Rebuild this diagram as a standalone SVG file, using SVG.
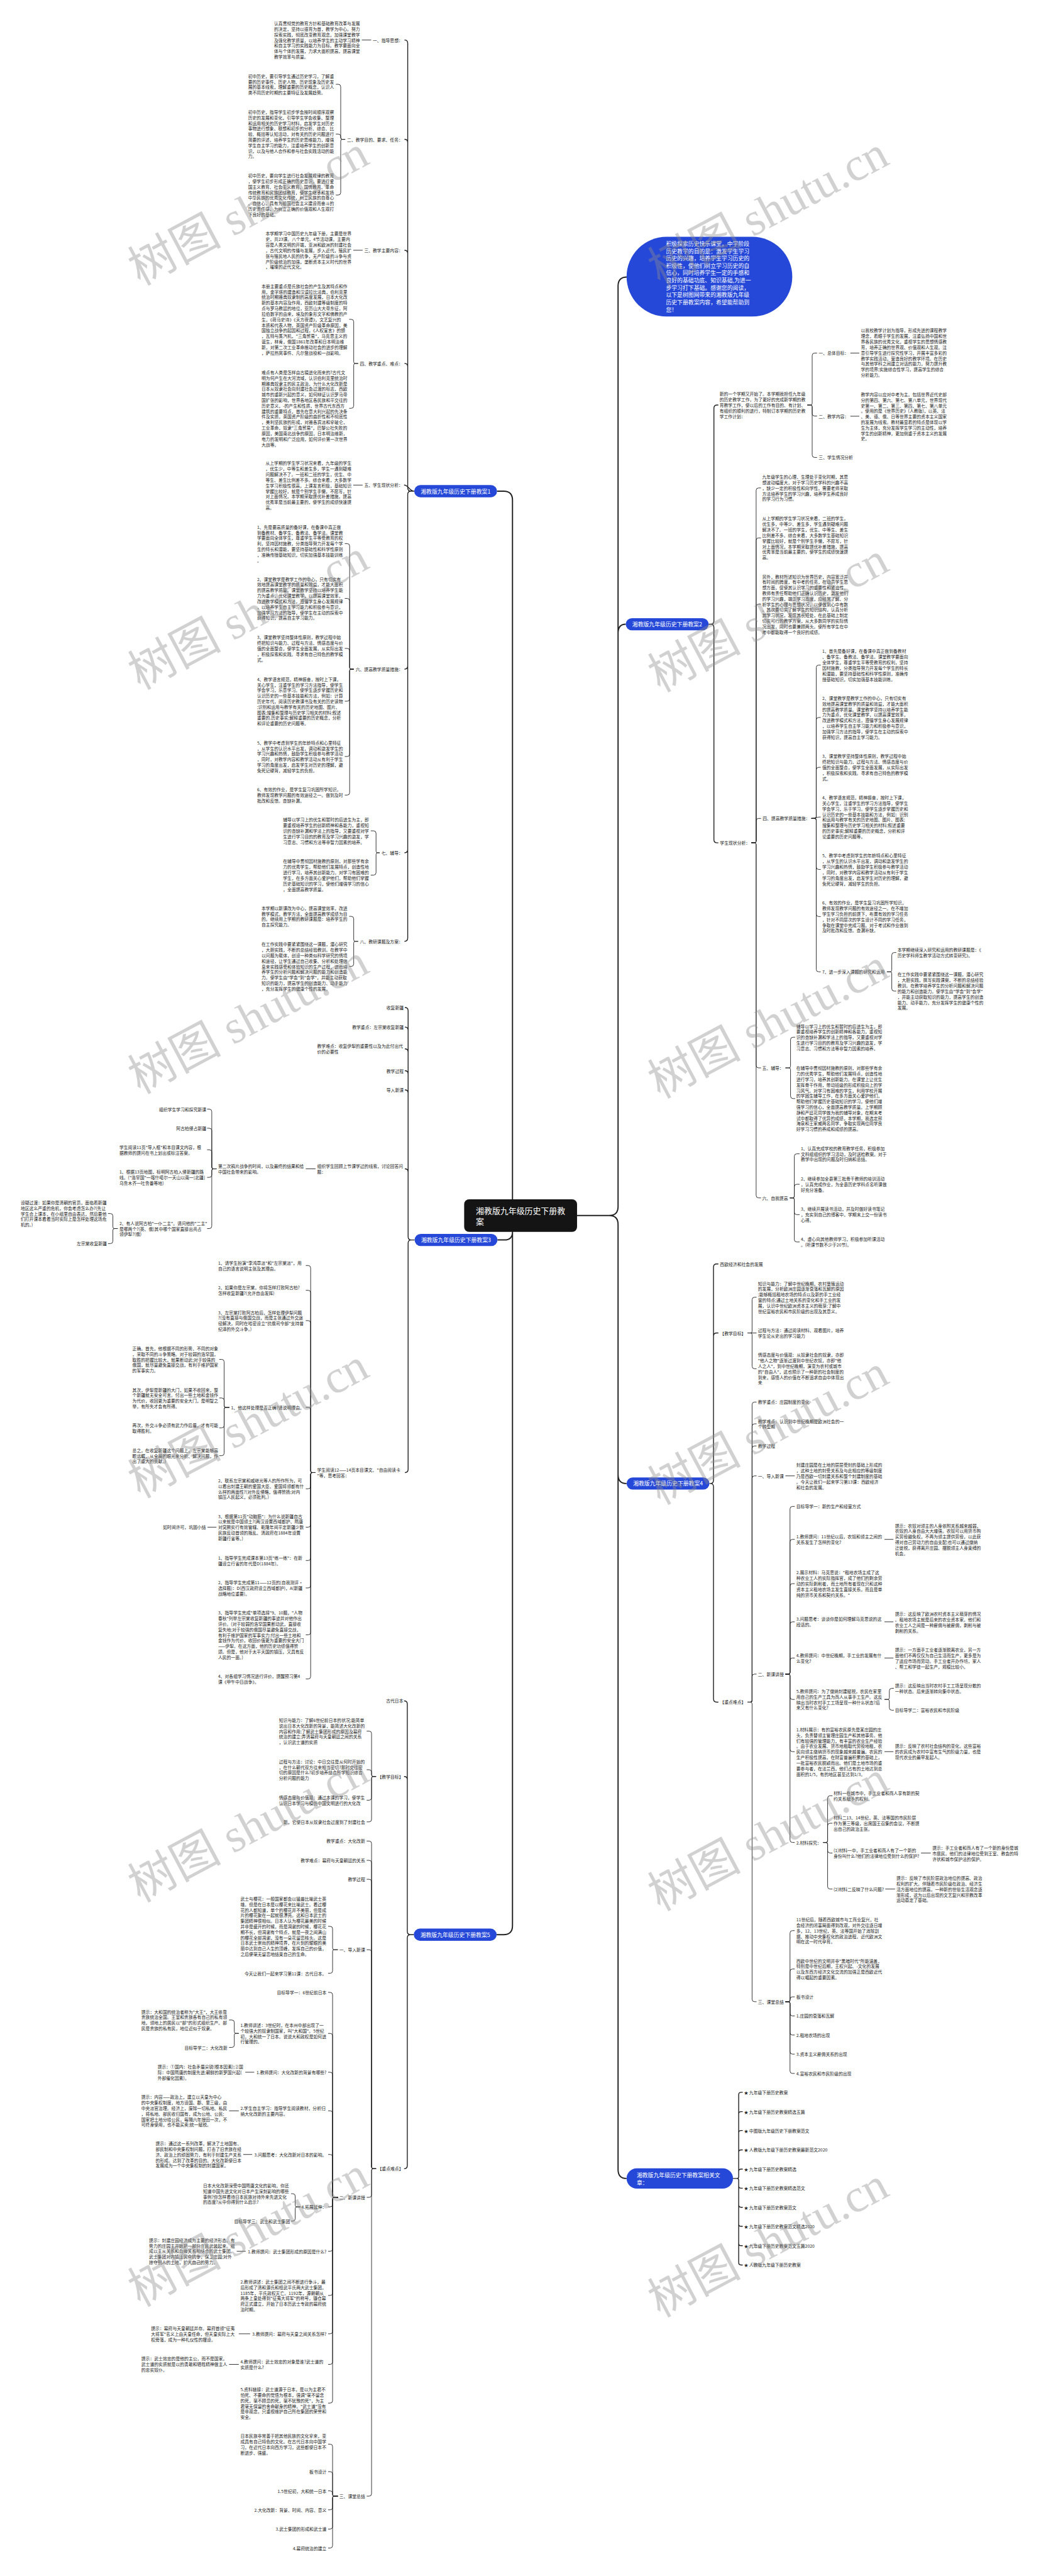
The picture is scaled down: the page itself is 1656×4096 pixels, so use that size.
<svg xmlns="http://www.w3.org/2000/svg" width="1656" height="4096" viewBox="0 0 1656 4096">
<style>
.t{font-family:"Noto Sans CJK SC","Noto Sans",sans-serif;font-size:10.6px;fill:#222;dominant-baseline:central}
.e{text-anchor:end}
.nt{font-family:"Noto Sans CJK SC","Noto Sans",sans-serif;font-size:13.7px;fill:#fff;dominant-baseline:central}
.mid{text-anchor:middle}
.rt{font-family:"Noto Sans CJK SC","Noto Sans",sans-serif;font-size:20px;fill:#fff;dominant-baseline:central}
.c{fill:none;stroke:#222;stroke-width:1.4}
.s{fill:none;stroke:#222;stroke-width:2.2}
.r{fill:none;stroke:#222;stroke-width:3}
.nd{fill:#2548d8}
.wm{font-family:"Liberation Serif","Noto Sans CJK SC",serif;font-size:115px;fill:#8c8c8c;fill-opacity:0.4}
</style>
<rect width="1656" height="4096" fill="#fff"/>
<g transform="scale(0.646)">
<g id="connectors">
<path class="r" d="M1262,2975V1231Q1262,1209 1240,1209H1224M1262,3010V3032Q1262,3052 1242,3052H1225M1262,3010V4740Q1262,4762 1240,4762H1223M1421,2992H1500Q1522,2992 1522,2970V704Q1522,682 1544,682M1421,2992H1500Q1522,2992 1522,2970V1558.5Q1522,1536.5 1541,1536.5M1421,2992H1500Q1522,2992 1522,3014V3629.5Q1522,3651.5 1543,3651.5M1421,2992H1500Q1522,2992 1522,3014V5340Q1522,5362 1543,5362"/>
<path class="s" d="M1020,1209H1012Q1004,1209 1004,1201V106.5Q1004,98.5 996,98.5M1020,1209H1012Q1004,1209 1004,1201V351Q1004,343 996,343M1020,1209H1012Q1004,1209 1004,1201V624Q1004,616 996,616M1020,1209H1012Q1004,1209 1004,1201V902.6Q1004,894.6 996,894.6M1020,1209C1008,1209 1006,1194 995,1194M1020,1209H1012Q1004,1209 1004,1217V1639Q1004,1647 996,1647M1020,1209H1012Q1004,1209 1004,1217V2091Q1004,2099 996,2099M1020,1209H1012Q1004,1209 1004,1217V2309Q1004,2317 996,2317"/>
<path class="c" d="M914,98.5H891M850,343H843Q839,343 839,339V213.5Q839,207.5 833,207.5H827M850,343H843Q839,343 839,339V336Q839,330 833,330H827M850,343H843Q839,343 839,347V474Q839,480 833,480H827M893,616H870M882,894.6H875Q871,894.6 871,890.6V792Q871,786 865,786H860M882,894.6H875Q871,894.6 871,898.6V999Q871,1005 865,1005H860M893,1194H870M871,1647H865Q861,1647 861,1643V1344Q861,1338 855,1338H849M871,1647H865Q861,1647 861,1643V1479Q861,1473 855,1473H849M871,1647H865Q861,1647 861,1643V1602Q861,1596 855,1596H849M871,1647H865Q861,1647 861,1651V1720Q861,1726 855,1726H849M871,1647H865Q861,1647 861,1651V1856Q861,1862 855,1862H849M871,1647H865Q861,1647 861,1651V1951Q861,1957 855,1957H849M935,2099H930Q926,2099 926,2095V2051Q926,2045 920,2045H913M935,2099H930Q926,2099 926,2103V2148Q926,2154 920,2154H913M882,2317H875Q871,2317 871,2313V2261.5Q871,2255.5 865,2255.5H860M882,2317H875Q871,2317 871,2321V2372.7Q871,2378.7 865,2378.7H860"/>
<path class="s" d="M1745,1536.5H1750Q1758,1536.5 1758,1528.5V1005Q1758,997 1766,997H1769M1745,1536.5H1750Q1758,1536.5 1758,1544.5V2066.5Q1758,2074.5 1766,2074.5H1769"/>
<path class="c" d="M1988,997H1996Q2000,997 2000,993V875Q2000,869 2006,869H2012M1988,997H1996Q2000,997 2000,1001V1018Q2000,1024 2006,1024H2012M1988,997H1996Q2000,997 2000,1001V1120Q2000,1126 2006,1126H2012M2094,869H2116M2094,1024.5H2116M1850,2074.5H1858Q1862,2074.5 1862,2070.5V1207Q1862,1201 1868,1201H1874M1850,2074.5H1858Q1862,2074.5 1862,2070.5V1330Q1862,1324 1868,1324H1874M1850,2074.5H1858Q1862,2074.5 1862,2070.5V1493Q1862,1487 1868,1487H1874M1850,2074.5H1858Q1862,2074.5 1862,2070.5V2020.5Q1862,2014.5 1868,2014.5H1874M1850,2074.5H1858Q1862,2074.5 1862,2078.5V2622.5Q1862,2628.5 1868,2628.5H1874M1850,2074.5H1858Q1862,2074.5 1862,2078.5V2942.5Q1862,2948.5 1868,2948.5H1874M1998,2014.5H2006Q2010,2014.5 2010,2010.5V1643Q2010,1637 2016,1637H2021M1998,2014.5H2006Q2010,2014.5 2010,2010.5V1772Q2010,1766 2016,1766H2021M1998,2014.5H2006Q2010,2014.5 2010,2010.5V1894.7Q2010,1888.7 2016,1888.7H2021M1998,2014.5C2008,2014.5 2008,2011 2021,2011M1998,2014.5H2006Q2010,2014.5 2010,2018.5V2134Q2010,2140 2016,2140H2021M1998,2014.5H2006Q2010,2014.5 2010,2018.5V2250Q2010,2256 2016,2256H2021M1998,2014.5H2006Q2010,2014.5 2010,2018.5V2386Q2010,2392 2016,2392H2021M2184,2392H2192Q2196,2392 2196,2388V2350.6Q2196,2344.6 2202,2344.6H2207M2184,2392H2192Q2196,2392 2196,2396V2433.5Q2196,2439.5 2202,2439.5H2207M1934,2628.5H1942.7Q1946.7,2628.5 1946.7,2624.5V2559Q1946.7,2553 1952.7,2553H1958M1934,2628.5H1942.7Q1946.7,2628.5 1946.7,2632.5V2698Q1946.7,2704 1952.7,2704H1958M1945,2948.5H1952Q1956,2948.5 1956,2944.5V2846Q1956,2840 1962,2840H1969M1945,2948.5H1952Q1956,2948.5 1956,2944.5V2921Q1956,2915 1962,2915H1969M1945,2948.5H1952Q1956,2948.5 1956,2952.5V2983.7Q1956,2989.7 1962,2989.7H1969M1945,2948.5H1952Q1956,2948.5 1956,2952.5V3051Q1956,3057 1962,3057H1969"/>
<path class="s" d="M1747,3651.5H1749Q1757,3651.5 1757,3643.5V3119Q1757,3111 1765,3111H1769M1747,3651.5H1749Q1757,3651.5 1757,3643.5V3289Q1757,3281 1765,3281H1769M1747,3651.5H1749Q1757,3651.5 1757,3659.5V4181.6Q1757,4189.6 1765,4189.6H1769"/>
<path class="c" d="M1841,3281H1848Q1852,3281 1852,3277V3199Q1852,3193 1858,3193H1863M1841,3281H1863M1841,3281H1848Q1852,3281 1852,3285V3363Q1852,3369 1858,3369H1863M1841,4189.6H1848Q1852,4189.6 1852,4185.6V3457Q1852,3451 1858,3451H1863M1841,4189.6H1848Q1852,4189.6 1852,4185.6V3510.6Q1852,3504.6 1858,3504.6H1863M1841,4189.6H1848Q1852,4189.6 1852,4185.6V3565Q1852,3559 1858,3559H1863M1841,4189.6H1848Q1852,4189.6 1852,4185.6V3638.7Q1852,3632.7 1858,3632.7H1863M1841,4189.6H1848Q1852,4189.6 1852,4185.6V4126.6Q1852,4120.6 1858,4120.6H1863M1841,4189.6H1848Q1852,4189.6 1852,4193.6V4921Q1852,4927 1858,4927H1863M1934,3632.7H1957M1934,4120.6H1941.4Q1945.4,4120.6 1945.4,4116.6V3714Q1945.4,3708 1951.4,3708H1957M1934,4120.6H1941.4Q1945.4,4120.6 1945.4,4116.6V3795Q1945.4,3789 1951.4,3789H1957M1934,4120.6H1941.4Q1945.4,4120.6 1945.4,4116.6V3904Q1945.4,3898 1951.4,3898H1957M1934,4120.6H1941.4Q1945.4,4120.6 1945.4,4116.6V3998Q1945.4,3992 1951.4,3992H1957M1934,4120.6H1941.4Q1945.4,4120.6 1945.4,4116.6V4087Q1945.4,4081 1951.4,4081H1957M1934,4120.6H1941.4Q1945.4,4120.6 1945.4,4124.6V4177Q1945.4,4183 1951.4,4183H1957M1934,4120.6H1941.4Q1945.4,4120.6 1945.4,4124.6V4305.5Q1945.4,4311.5 1951.4,4311.5H1957M1934,4120.6H1941.4Q1945.4,4120.6 1945.4,4124.6V4529Q1945.4,4535 1951.4,4535H1957M2178,3789H2200M2178,3992H2200M2178,4081H2200M2178,4311.5H2200M2178,4183H2186Q2190,4183 2190,4179V4161.6Q2190,4155.6 2196,4155.6H2201M2178,4183H2186Q2190,4183 2190,4187V4203.5Q2190,4209.5 2196,4209.5H2201M2027,4535H2034Q2038,4535 2038,4531V4426Q2038,4420 2044,4420H2050M2027,4535H2034Q2038,4535 2038,4531V4493.7Q2038,4487.7 2044,4487.7H2050M2027,4535H2034Q2038,4535 2038,4539V4555Q2038,4561 2044,4561H2050M2027,4535H2034Q2038,4535 2038,4539V4643.7Q2038,4649.7 2044,4649.7H2050M2268,4561H2292M2180,4649.7H2204M1934,4927H1941.4Q1945.4,4927 1945.4,4923V4758Q1945.4,4752 1951.4,4752H1957M1934,4927H1941.4Q1945.4,4927 1945.4,4923V4852.5Q1945.4,4846.5 1951.4,4846.5H1957M1934,4927H1941.4Q1945.4,4927 1945.4,4923V4921Q1945.4,4915 1951.4,4915H1957M1934,4927H1941.4Q1945.4,4927 1945.4,4931V4956Q1945.4,4962 1951.4,4962H1957M1934,4927H1941.4Q1945.4,4927 1945.4,4931V5003Q1945.4,5009 1951.4,5009H1957M1934,4927H1941.4Q1945.4,4927 1945.4,4931V5050Q1945.4,5056 1951.4,5056H1957M1934,4927H1941.4Q1945.4,4927 1945.4,4931V5097.5Q1945.4,5103.5 1951.4,5103.5H1957"/>
<path class="s" d="M1805,5362H1815Q1819,5362 1819,5358V5156Q1819,5150 1825,5150H1829M1805,5362H1815Q1819,5362 1819,5358V5203.6Q1819,5197.6 1825,5197.6H1829M1805,5362H1815Q1819,5362 1819,5358V5250Q1819,5244 1825,5244H1829M1805,5362H1815Q1819,5362 1819,5358V5297.7Q1819,5291.7 1825,5291.7H1829M1805,5362H1815Q1819,5362 1819,5358V5345Q1819,5339 1825,5339H1829M1805,5362H1815Q1819,5362 1819,5366V5380Q1819,5386 1825,5386H1829M1805,5362H1815Q1819,5362 1819,5366V5427Q1819,5433 1825,5433H1829M1805,5362H1815Q1819,5362 1819,5366V5474Q1819,5480 1825,5480H1829M1805,5362H1815Q1819,5362 1819,5366V5521.5Q1819,5527.5 1825,5527.5H1829M1805,5362H1815Q1819,5362 1819,5366V5569Q1819,5575 1825,5575H1829"/>
<path class="s" d="M1021,3052H1013Q1005,3052 1005,3044V2488Q1005,2480 997,2480M1021,3052H1013Q1005,3052 1005,3044V2536Q1005,2528 997,2528M1021,3052H1013Q1005,3052 1005,3044V2589.6Q1005,2581.6 997,2581.6M1021,3052H1013Q1005,3052 1005,3044V2643.5Q1005,2635.5 997,2635.5M1021,3052H1013Q1005,3052 1005,3044V2690.7Q1005,2682.7 997,2682.7M1021,3052H1013Q1005,3052 1005,3044V2885Q1005,2877 997,2877M1021,3052H1013Q1005,3052 1005,3060V3616.6Q1005,3624.6 997,3624.6"/>
<path class="c" d="M777,2877H753M533,2877H525.5Q521.5,2877 521.5,2873V2736Q521.5,2730 515.5,2730H510M533,2877H525.5Q521.5,2877 521.5,2873V2783Q521.5,2777 515.5,2777H510M533,2877H525.5Q521.5,2877 521.5,2873V2836Q521.5,2830 515.5,2830H510M533,2877H525.5Q521.5,2877 521.5,2881V2892Q521.5,2898 515.5,2898H510M533,2877H525.5Q521.5,2877 521.5,2881V3018Q521.5,3024 515.5,3024H510M290,3024H282Q278,3024 278,3020V2993Q278,2987 272,2987H266M290,3024H282Q278,3024 278,3028V3055Q278,3061 272,3061H266M777,3624.6H769Q765,3624.6 765,3620.6V3121Q765,3115 759,3115H753M777,3624.6H769Q765,3624.6 765,3620.6V3182Q765,3176 759,3176H753M777,3624.6H769Q765,3624.6 765,3620.6V3256.6Q765,3250.6 759,3250.6H753M777,3624.6H769Q765,3624.6 765,3620.6V3470Q765,3464 759,3464H753M777,3624.6H769Q765,3624.6 765,3628.6V3658.5Q765,3664.5 759,3664.5H753M777,3624.6H769Q765,3624.6 765,3628.6V3753Q765,3759 759,3759H753M777,3624.6H769Q765,3624.6 765,3628.6V3835Q765,3841 759,3841H753M777,3624.6H769Q765,3624.6 765,3628.6V3902.5Q765,3908.5 759,3908.5H753M777,3624.6H769Q765,3624.6 765,3628.6V4018Q765,4024 759,4024H753M777,3624.6H769Q765,3624.6 765,3628.6V4126.6Q765,4132.6 759,4132.6H753M565,3464H556Q552,3464 552,3460V3352Q552,3346 546,3346H540M565,3464H556Q552,3464 552,3460V3447Q552,3441 546,3441H540M565,3464H556Q552,3464 552,3468V3508.5Q552,3514.5 546,3514.5H540M565,3464H556Q552,3464 552,3468V3577Q552,3583 546,3583H540M533,3759H511"/>
<path class="s" d="M1019,4762H1011Q1003,4762 1003,4754V4194.5Q1003,4186.5 995,4186.5M1019,4762H1011Q1003,4762 1003,4754V4380.6Q1003,4372.6 995,4372.6M1019,4762H1011Q1003,4762 1003,4770V5330Q1003,5338 995,5338"/>
<path class="c" d="M926,4372.6H919Q915,4372.6 915,4368.6V4267Q915,4261 909,4261H903M926,4372.6H919Q915,4372.6 915,4368.6V4362Q915,4356 909,4356H903M926,4372.6H919Q915,4372.6 915,4376.6V4425Q915,4431 909,4431H903M926,4372.6H919Q915,4372.6 915,4376.6V4478.3Q915,4484.3 909,4484.3H903M926,5338H919Q915,5338 915,5334V4537.6Q915,4531.6 909,4531.6H903M926,5338H919Q915,5338 915,5334V4585Q915,4579 909,4579H903M926,5338H919Q915,5338 915,5334V4631.6Q915,4625.6 909,4625.6H903M926,5338H919Q915,5338 915,5334V4805Q915,4799 909,4799H903M926,5338H919Q915,5338 915,5342V5402.5Q915,5408.5 909,5408.5H903M926,5338H919Q915,5338 915,5342V6138Q915,6144 909,6144H903M832,4799H823Q819,4799 819,4795V4747.5Q819,4741.5 813,4741.5H808M832,4799H823Q819,4799 819,4803V4851Q819,4857 813,4857H808M832,5408.5H823Q819,5408.5 819,5404.5V4910Q819,4904 813,4904H808M832,5408.5H823Q819,5408.5 819,5404.5V5011Q819,5005 813,5005H808M832,5408.5H823Q819,5408.5 819,5404.5V5106.6Q819,5100.6 813,5100.6H808M832,5408.5H823Q819,5408.5 819,5404.5V5201.6Q819,5195.6 813,5195.6H808M832,5408.5H823Q819,5408.5 819,5404.5V5309Q819,5303 813,5303H808M832,5408.5H823Q819,5408.5 819,5412.5V5426Q819,5432 813,5432H808M832,5408.5H823Q819,5408.5 819,5412.5V5535.3Q819,5541.3 813,5541.3H808M832,5408.5H823Q819,5408.5 819,5412.5V5644Q819,5650 813,5650H808M832,5408.5H823Q819,5408.5 819,5412.5V5738.4Q819,5744.4 813,5744.4H808M832,5408.5H823Q819,5408.5 819,5412.5V5813.7Q819,5819.7 813,5819.7H808M832,5408.5H823Q819,5408.5 819,5412.5V5909Q819,5915 813,5915H808M832,6144H823Q819,6144 819,6140V6022Q819,6016 813,6016H808M832,6144H823Q819,6144 819,6140V6089.7Q819,6083.7 813,6083.7H808M832,6144H823Q819,6144 819,6140V6137Q819,6131 813,6131H808M832,6144H823Q819,6144 819,6148V6171.7Q819,6177.7 813,6177.7H808M832,6144H823Q819,6144 819,6148V6219Q819,6225 813,6225H808M832,6144H823Q819,6144 819,6148V6265.7Q819,6271.7 813,6271.7H808M588,5005H581Q577,5005 577,5001V4978Q577,4972 571,4972H564M588,5005H581Q577,5005 577,5009V5033.5Q577,5039.5 571,5039.5H564M626,5100.6H604M588,5195.6H564M621,5303H599M740,5432H731Q727,5432 727,5428V5405.6Q727,5399.6 721,5399.6H717M740,5432H731Q727,5432 727,5436V5461Q727,5467 721,5467H717M605,5541.3H583M616,5744.4H588M588,5819.7H564"/>
</g>
<g id="root"><rect x="1143" y="2952" width="278" height="80" rx="12" fill="#141414"/><text class="rt" x="1172" y="2979"><tspan x="1172">湘教版九年级历史下册教</tspan><tspan x="1172" dy="26">案</tspan></text></g>
<g id="intro"><rect class="nd" x="1543" y="583" width="408" height="196" rx="98"/><text class="nt" x="1640" y="599"><tspan x="1640">积极探索历史快乐课堂，中学阶段</tspan><tspan x="1640" dy="18">历史教学的目的是：激发学生学习</tspan><tspan x="1640" dy="18">历史的兴趣，培养学生学习历史的</tspan><tspan x="1640" dy="18">积极性，使他们树立学习历史的自</tspan><tspan x="1640" dy="18">信心，同时培养学生一定的手感和</tspan><tspan x="1640" dy="18">良好的基础功底、知识基础,为进一</tspan><tspan x="1640" dy="18">步学习打下基础。感谢您的阅读，</tspan><tspan x="1640" dy="18">以下是树图网带来的湘教版九年级</tspan><tspan x="1640" dy="18">历史下册教案内容，希望能帮助到</tspan><tspan x="1640" dy="18">您！</tspan></text></g>
<g id="b1"><rect class="nd" x="1020" y="1194" width="204" height="30" rx="15"/><text class="nt mid" x="1122" y="1209">湘教版九年级历史下册教案1</text></g>
<g id="b2"><rect class="nd" x="1541" y="1521.5" width="204" height="30" rx="15"/><text class="nt mid" x="1643" y="1536.5">湘教版九年级历史下册教案2</text></g>
<g id="b3"><rect class="nd" x="1021" y="3037" width="204" height="30" rx="15"/><text class="nt mid" x="1123" y="3052">湘教版九年级历史下册教案3</text></g>
<g id="b4"><rect class="nd" x="1543" y="3636.5" width="204" height="30" rx="15"/><text class="nt mid" x="1645" y="3651.5">湘教版九年级历史下册教案4</text></g>
<g id="b5"><rect class="nd" x="1019" y="4747" width="204" height="30" rx="15"/><text class="nt mid" x="1121" y="4762">湘教版九年级历史下册教案5</text></g>
<g id="b6"><rect class="nd" x="1543" y="5337" width="262" height="50" rx="25"/><text class="nt" x="1568" y="5353"><tspan x="1568">湘教版九年级历史下册教案相关文</tspan><tspan x="1568" dy="18">章：</tspan></text></g>
<g id="b1-items">
<text class="t e" x="992" y="98.5">一、指导思想：</text>
<text class="t e" x="992" y="343">二、教学目的、要求、任务：</text>
<text class="t e" x="992" y="616">三、教学主要内容：</text>
<text class="t e" x="992" y="894.6">四、教学重点、难点：</text>
<text class="t e" x="992" y="1194">五、学生现状分析：</text>
<text class="t e" x="992" y="1647">六、提高教学质量措施：</text>
<text class="t e" x="992" y="2099">七、辅导：</text>
<text class="t e" x="992" y="2317">八、教研课题及方案：</text>
<text class="t" x="675" y="57.5"><tspan x="675">认真贯彻党的教育方针和基础教育改革与发展</tspan><tspan x="675" dy="13.65">的决定，坚持以德育为首，教学为中心。努力</tspan><tspan x="675" dy="13.65">探索实践，彻底改变教育观念，加强课堂教学</tspan><tspan x="675" dy="13.65">及强化教学质量，以培养学生的主动学习精神</tspan><tspan x="675" dy="13.65">和自主学习的实践能力为目标。教学要面向全</tspan><tspan x="675" dy="13.65">体与个体的发展，力求大面积提高，提高课堂</tspan><tspan x="675" dy="13.65">教学效率与质量。</tspan></text>
<text class="t" x="611" y="187"><tspan x="611">初中历史，要引导学生通过历史学习，了解重</tspan><tspan x="611" dy="13.65">要的历史事件、历史人物、历史现象及历史发</tspan><tspan x="611" dy="13.65">展的基本线索，理解重要的历史概念，认识人</tspan><tspan x="611" dy="13.65">类不同历史时期的主要特征及发展趋势。</tspan></text>
<text class="t" x="611" y="275.4"><tspan x="611">初中历史，指导学生初步学会按时间顺序观察</tspan><tspan x="611" dy="13.65">历史的发展和变化，引导学生学会收集、整理</tspan><tspan x="611" dy="13.65">和运用相关的历史学习材料，启发学生对历史</tspan><tspan x="611" dy="13.65">事物进行想象、联想和初步的分析、综合、比</tspan><tspan x="611" dy="13.65">较、概括等认知活动，对有关的历史问题进行</tspan><tspan x="611" dy="13.65">简要的评述，培养学生的历史思维能力，增强</tspan><tspan x="611" dy="13.65">学生自主学习的能力，注重培养学生的创新意</tspan><tspan x="611" dy="13.65">识，以及与他人合作和参与社会实践活动的能</tspan><tspan x="611" dy="13.65">力。</tspan></text>
<text class="t" x="611" y="432.2"><tspan x="611">初中历史，要向学生进行社会发展规律的教育</tspan><tspan x="611" dy="13.65">，使学生初步形成正确的历史意识，要进行爱</tspan><tspan x="611" dy="13.65">国主义教育、社会主义教育、国情教育、革命</tspan><tspan x="611" dy="13.65">传统教育和民族团结教育，使学生继承和发扬</tspan><tspan x="611" dy="13.65">中华民族的优秀文化传统，树立民族的自尊心</tspan><tspan x="611" dy="13.65">、自信心，具有为祖国社会主义建设而奋斗的</tspan><tspan x="611" dy="13.65">历史责任感，为树立正确的价值观和人生观打</tspan><tspan x="611" dy="13.65">下良好的基础。</tspan></text>
<text class="t" x="654" y="575"><tspan x="654">本学期学习中国历史九年级下册，主要是世界</tspan><tspan x="654" dy="13.65">史，共23课。八个单元，4节活动课。主要内</tspan><tspan x="654" dy="13.65">容是人类文明的开端，亚洲和欧洲的封建社会</tspan><tspan x="654" dy="13.65">，古代文明的传播与发展，步入近代，殖民扩</tspan><tspan x="654" dy="13.65">张与殖民地人民的抗争，无产阶级的斗争与资</tspan><tspan x="654" dy="13.65">产阶级统治的加强，垄断资本主义时代的世界</tspan><tspan x="654" dy="13.65">，璀璨的近代文化。</tspan></text>
<text class="t" x="644" y="704.1"><tspan x="644">本册主要重点是氏族社会的产生及其特点和作</tspan><tspan x="644" dy="13.65">用，金字塔的建造和汉谟拉比法典，伯利克里</tspan><tspan x="644" dy="13.65">统治时期雅典奴隶制的高度发展，日本大化改</tspan><tspan x="644" dy="13.65">新的基本内容及作用，西欧封建等级制度的特</tspan><tspan x="644" dy="13.65">点与罗马教廷的地位，亚历山大大帝东征，阿</tspan><tspan x="644" dy="13.65">拉伯数字的由来，埃及的象形文字和佛教的产</tspan><tspan x="644" dy="13.65">生，《荷马史诗》《天方夜谭》，文艺复兴的</tspan><tspan x="644" dy="13.65">本质和代表人物，英国资产阶级革命原因，美</tspan><tspan x="644" dy="13.65">国独立战争的起因和过程，《人权宣言》的颁</tspan><tspan x="644" dy="13.65">，瓦特与蒸汽机，"三角贸易"，马克思主义的</tspan><tspan x="644" dy="13.65">诞生，林肯，俄国1861年改革和日本明治维</tspan><tspan x="644" dy="13.65">新，对第二次工业革命推动社会的进步的理解</tspan><tspan x="644" dy="13.65">，萨拉热窝事件、凡尔登战役和一战影响。</tspan></text>
<text class="t" x="644" y="916.3"><tspan x="644">难点有人类是怎样由古猿进化而来的?古代文</tspan><tspan x="644" dy="13.65">明为何产生在大河流域，认识伯利克里统治时</tspan><tspan x="644" dy="13.65">期雅典奴隶主的民主政治，为什么大化改新是</tspan><tspan x="644" dy="13.65">日本从奴隶社会向封建社会过渡的标志，西欧</tspan><tspan x="644" dy="13.65">城市的重新兴起的意义，如何辩证认识罗马帝</tspan><tspan x="644" dy="13.65">国扩张的影响，世界各地区各民族和平交往的</tspan><tspan x="644" dy="13.65">历史意义，-的产生和性质，世界古代东西方</tspan><tspan x="644" dy="13.65">建筑的重要特点，首先在意大利兴起的先决条</tspan><tspan x="644" dy="13.65">件及实质，英国资产阶级的曲折性和不彻底性</tspan><tspan x="644" dy="13.65">，美利坚民族的形成，对雅各宾派和拿破仑，</tspan><tspan x="644" dy="13.65">工业革命，奴隶"三角贸易"，巴黎公社失败的</tspan><tspan x="644" dy="13.65">原因，美国南北战争的原因，日本明治维新，</tspan><tspan x="644" dy="13.65">电力的发明和广泛应用，如何评价第一次世界</tspan><tspan x="644" dy="13.65">大战等。</tspan></text>
<text class="t" x="654" y="1140"><tspan x="654">从上学期的学生学习状况来看，九年级的学生</tspan><tspan x="654" dy="13.65">，优生少，中等生和差生多，学生一遇到疑难</tspan><tspan x="654" dy="13.65">问题解决不了。一班和二班的学生，优生、中</tspan><tspan x="654" dy="13.65">等生、差生比例差不多。综合来看，大多数学</tspan><tspan x="654" dy="13.65">生学习积极性很高，上课发言积极，基础知识</tspan><tspan x="654" dy="13.65">掌握比较好，就是个别学生手懒，不愿写，针</tspan><tspan x="654" dy="13.65">对上面情况，本学期采取提优补差措施，提高</tspan><tspan x="654" dy="13.65">优秀率是当前最主要的，使学生的成绩快速提</tspan><tspan x="654" dy="13.65">高。</tspan></text>
<text class="t" x="633" y="1297"><tspan x="633">1、先是要高质量的备好课，在备课中真正做</tspan><tspan x="633" dy="13.65">到备教材、备学生、备教法、备学法。课堂教</tspan><tspan x="633" dy="13.65">学要面向全体学生，尊重学生平等受教育的权</tspan><tspan x="633" dy="13.65">利，坚持因材施教，分类指导努力开发每个学</tspan><tspan x="633" dy="13.65">生的特长和潜能，要坚持基础性和科学性原则</tspan><tspan x="633" dy="13.65">，准确传授基础知识，切实加强基本技能训练</tspan><tspan x="633" dy="13.65">。</tspan></text>
<text class="t" x="633" y="1425.2"><tspan x="633">2、课堂教学是教学工作的中心，只有切实有</tspan><tspan x="633" dy="13.65">效地提高课堂教学的质量和效益，才能大面积</tspan><tspan x="633" dy="13.65">的提高教学质量。课堂教学坚持以培养学生能</tspan><tspan x="633" dy="13.65">力为重点，优化课堂教学，以提高课堂效率，</tspan><tspan x="633" dy="13.65">改进教学模式和方法，遵循学生身心发展规律</tspan><tspan x="633" dy="13.65">，以培养学生自主学习能力和积极参与意识，</tspan><tspan x="633" dy="13.65">加强学习方法的指导，使学生在主动的探索中</tspan><tspan x="633" dy="13.65">获得知识，提高自主学习能力。</tspan></text>
<text class="t" x="633" y="1568.7"><tspan x="633">3、课堂教学坚持整体性原则，教学过程中始</tspan><tspan x="633" dy="13.65">终把知识与能力、过程与方法、情感态度与价</tspan><tspan x="633" dy="13.65">值的全面整合，使学生全面发展，从实际出发</tspan><tspan x="633" dy="13.65">，积极探索和实践。寻求有自己特色的教学模</tspan><tspan x="633" dy="13.65">式。</tspan></text>
<text class="t" x="633" y="1671.4"><tspan x="633">4、教学语言规范，精神振奋，按时上下课，</tspan><tspan x="633" dy="13.65">关心学生，注重学生的学习方法指导，使学生</tspan><tspan x="633" dy="13.65">学会学习，乐意学习。使学生逐步掌握历史和</tspan><tspan x="633" dy="13.65">认识历史的一些基本技能和方法，例如：计算</tspan><tspan x="633" dy="13.65">历史年代，阅读历史教课书及有关的历史读物</tspan><tspan x="633" dy="13.65">;识别和运用与教学有关的历史地图、图片、</tspan><tspan x="633" dy="13.65">图表;搜集和整理与历史学习相关的材料;叙述</tspan><tspan x="633" dy="13.65">重要的.历史事实;解释重要的历史概念，分析</tspan><tspan x="633" dy="13.65">和评论重要的历史问题等。</tspan></text>
<text class="t" x="633" y="1827.9"><tspan x="633">5、教学中考虑到学生的年龄特点和心里特征</tspan><tspan x="633" dy="13.65">，从学生的认识水平出发，调动和激发学生的</tspan><tspan x="633" dy="13.65">学习兴趣和热情，鼓励学生积极参与教学活动</tspan><tspan x="633" dy="13.65">，同时，对教学内容和教学活动从有利于学生</tspan><tspan x="633" dy="13.65">学习的角度出发，启发学生对历史的理解，避</tspan><tspan x="633" dy="13.65">免死记硬背，减轻学生的负担。</tspan></text>
<text class="t" x="633" y="1943.4"><tspan x="633">6、有效的作业，是学生复习巩固所学知识，</tspan><tspan x="633" dy="13.65">教师发现教学问题的有效途径之一。做到及时</tspan><tspan x="633" dy="13.65">批改和反馈。查缺补漏。</tspan></text>
<text class="t" x="697" y="2017.7"><tspan x="697">辅导以学习上的优生和暂时的后进生为主，即</tspan><tspan x="697" dy="13.65">要重视培养学生的创新精神和各能力，重视知</tspan><tspan x="697" dy="13.65">识的查缺补漏和学法上的指导，又要重视对学</tspan><tspan x="697" dy="13.65">生进行学习目的的教育及学习兴趣的激发，学</tspan><tspan x="697" dy="13.65">习意志、习惯和方法等非智力因素的培养。</tspan></text>
<text class="t" x="697" y="2119.9"><tspan x="697">在辅导中贯彻因材施教的原则，对那些学有余</tspan><tspan x="697" dy="13.65">力的优秀学生，帮助他们发展特点，创造性地</tspan><tspan x="697" dy="13.65">进行学习，培养其创新能力。对学习有困难的</tspan><tspan x="697" dy="13.65">学生，在多方面关心爱护他们，帮助他们掌握</tspan><tspan x="697" dy="13.65">历史基础知识的学习，使他们增强学习的信心</tspan><tspan x="697" dy="13.65">，全面提高教学质量。</tspan></text>
<text class="t" x="644" y="2235"><tspan x="644">本学期以新课改为中心，提高课堂效率，改进</tspan><tspan x="644" dy="13.65">教学模式，教学方法，全面提高教学成绩为目</tspan><tspan x="644" dy="13.65">的。继续用上学期的教研课题是：培养学生的</tspan><tspan x="644" dy="13.65">自主探究能力。</tspan></text>
<text class="t" x="644" y="2324.1"><tspan x="644">在工作实践中要紧紧围绕这一课题，潜心研究</tspan><tspan x="644" dy="13.65">，大胆实践，不断的总结经验教训。在教学中</tspan><tspan x="644" dy="13.65">以问题为载体，创设一种类似科学研究的情境</tspan><tspan x="644" dy="13.65">和途径，让学生通过自己收集、分析和处理信</tspan><tspan x="644" dy="13.65">息来实践感受和体验知识的生产过程，进而培</tspan><tspan x="644" dy="13.65">养学生的分析问题和解决问题的能力和创造能</tspan><tspan x="644" dy="13.65">力。使学生由"学会"到"会学"，并能主动获取</tspan><tspan x="644" dy="13.65">知识的能力，提高学生的创造能力、动手能力</tspan><tspan x="644" dy="13.65">，充分发挥学生的健康个性的发展。</tspan></text>
</g>
<g id="b2-items">
<text class="t" x="1772" y="969.7"><tspan x="1772">新的一个学期又开始了。本学期我担任九年级</tspan><tspan x="1772" dy="13.65">的历史教学工作，为了更好的完成新学期的教</tspan><tspan x="1772" dy="13.65">育教学工作，使以后的工作有目的、有计划、</tspan><tspan x="1772" dy="13.65">有组织的顺利的进行，特制订本学期的历史教</tspan><tspan x="1772" dy="13.65">学工作计划：</tspan></text>
<text class="t" x="2016" y="869">一、总体目标：</text>
<text class="t" x="2016" y="1024.5">二、教学内容：</text>
<text class="t" x="2016" y="1126">三、学生情况分析</text>
<text class="t" x="2120" y="813.4"><tspan x="2120">以我校教学计划为指导，形成先进的课程教学</tspan><tspan x="2120" dy="13.65">理念，着眼于学生的发展，注重弘扬中国和世</tspan><tspan x="2120" dy="13.65">界各民族的优秀文化，重视学生的思想情感教</tspan><tspan x="2120" dy="13.65">育，培养正确的世界观、价值观和人生观。注</tspan><tspan x="2120" dy="13.65">意引导学生进行探究性学习，开展丰富多彩的</tspan><tspan x="2120" dy="13.65">教学实践活动，营造良好的教学环境。在历史</tspan><tspan x="2120" dy="13.65">与其他学科之间建立对话的能力，努力提升教</tspan><tspan x="2120" dy="13.65">学的境界;实施综合性学习，提高学生的综合</tspan><tspan x="2120" dy="13.65">分析能力。</tspan></text>
<text class="t" x="2120" y="970.4"><tspan x="2120">教学内容以应对中考为主。包括世界近代史部</tspan><tspan x="2120" dy="13.65">分的第四、第六、第七、第八单元，世界现代</tspan><tspan x="2120" dy="13.65">史第一、第二、第三、第四、第七、第八单元</tspan><tspan x="2120" dy="13.65">。使用的是《世界历史》(人教版)，以英、法</tspan><tspan x="2120" dy="13.65">、美、德、俄、日等世界主要的资本主义国家</tspan><tspan x="2120" dy="13.65">的发展为线索。教材最显着的特点是体现以学</tspan><tspan x="2120" dy="13.65">生为主体，充分发挥学生学习的主动性，培养</tspan><tspan x="2120" dy="13.65">学生的创新精神，更加侧重于资本主义的发展</tspan><tspan x="2120" dy="13.65">史。</tspan></text>
<text class="t" x="1773" y="2074.5">学生现状分析：</text>
<text class="t" x="1877" y="1173.7"><tspan x="1877">九年级学生的心理、生理处于变化时期，其思</tspan><tspan x="1877" dy="13.65">想波动幅度大，对于学习历史学科的兴趣不高</tspan><tspan x="1877" dy="13.65">，缺少一定的积极性和向学性，需要老师采取</tspan><tspan x="1877" dy="13.65">方法培养学生的学习兴趣，培养学生养成良好</tspan><tspan x="1877" dy="13.65">的学习行为习惯。</tspan></text>
<text class="t" x="1877" y="1276.2"><tspan x="1877">从上学期的学生学习状况来看，二班的学生，</tspan><tspan x="1877" dy="13.65">优生多，中等少、差生多，学生遇到疑难问题</tspan><tspan x="1877" dy="13.65">解决不了。一班的学生，优生、中等生、差生</tspan><tspan x="1877" dy="13.65">比例差不多。综合来看，大多数学生基础知识</tspan><tspan x="1877" dy="13.65">掌握比较好，就是个别学生手懒，不愿写，针</tspan><tspan x="1877" dy="13.65">对上面情况，本学期采取提优补差措施，提高</tspan><tspan x="1877" dy="13.65">优秀率是当前最主要的，使学生的成绩快速提</tspan><tspan x="1877" dy="13.65">高。</tspan></text>
<text class="t" x="1877" y="1418.75"><tspan x="1877">另外，教材所述知识为世界历史，内容宽泛并</tspan><tspan x="1877" dy="13.65">有时间的跨度，有中考的任务，在动员学生思</tspan><tspan x="1877" dy="13.65">想方面，促使其认识学习的重要性和紧迫性。</tspan><tspan x="1877" dy="13.65">教师有责任帮助他们正确认识历史，激发他们</tspan><tspan x="1877" dy="13.65">的学习兴趣，端正学习态度，应经常了解、分</tspan><tspan x="1877" dy="13.65">析学生的心理与思想状况，以便做到心中有数</tspan><tspan x="1877" dy="13.65">。其次要切实了解学生的知识结构，认真分析</tspan><tspan x="1877" dy="13.65">其学习状况，发现其长短处，在此基础上制定</tspan><tspan x="1877" dy="13.65">切实可行的教学方案，从大多数同学的实际情</tspan><tspan x="1877" dy="13.65">况出发，同时也要兼顾两头。使所有学生在中</tspan><tspan x="1877" dy="13.65">考中都能取得一个良好的成绩。</tspan></text>
<text class="t" x="1878" y="2014.5">四、提高教学质量措施：</text>
<text class="t" x="2024.7" y="1602.9"><tspan x="2024.7">1、首先是备好课，在备课中真正做到备教材</tspan><tspan x="2024.7" dy="13.65">、备学生、备教法、备学法。课堂教学要面向</tspan><tspan x="2024.7" dy="13.65">全体学生，尊重学生平等受教育的权利，坚持</tspan><tspan x="2024.7" dy="13.65">因材施教，分类指导努力开发每个学生的特长</tspan><tspan x="2024.7" dy="13.65">和潜能，要坚持基础性和科学性原则，准确传</tspan><tspan x="2024.7" dy="13.65">授基础知识，切实加强基本技能训练。</tspan></text>
<text class="t" x="2024.7" y="1718.2"><tspan x="2024.7">2、课堂教学是教学工作的中心，只有切实有</tspan><tspan x="2024.7" dy="13.65">效地提高课堂教学的质量和效益，才能大面积</tspan><tspan x="2024.7" dy="13.65">的提高教学质量。课堂教学坚持以培养学生能</tspan><tspan x="2024.7" dy="13.65">力为重点，优化课堂教学，以提高课堂效率，</tspan><tspan x="2024.7" dy="13.65">改进教学模式和方法，遵循学生身心发展规律</tspan><tspan x="2024.7" dy="13.65">，以培养学生自主学习能力和积极参与意识，</tspan><tspan x="2024.7" dy="13.65">加强学习方法的指导，使学生在主动的探索中</tspan><tspan x="2024.7" dy="13.65">获得知识，提高自主学习能力。</tspan></text>
<text class="t" x="2024.7" y="1861.4"><tspan x="2024.7">3、课堂教学坚持整体性原则，教学过程中始</tspan><tspan x="2024.7" dy="13.65">终把知识与能力、过程与方法、情感态度与价</tspan><tspan x="2024.7" dy="13.65">值的全面整合，使学生全面发展，从实际出发</tspan><tspan x="2024.7" dy="13.65">，积极探索和实践。寻求有自己特色的教学模</tspan><tspan x="2024.7" dy="13.65">式。</tspan></text>
<text class="t" x="2024.7" y="1963.2"><tspan x="2024.7">4、教学语言规范，精神振奋，按时上下课，</tspan><tspan x="2024.7" dy="13.65">关心学生，注重学生的学习方法指导，使学生</tspan><tspan x="2024.7" dy="13.65">学会学习，乐于学习。使学生逐步掌握历史和</tspan><tspan x="2024.7" dy="13.65">认识历史的一些基本技能和方法，例如：识别</tspan><tspan x="2024.7" dy="13.65">和运用与教学有关的历史地图、图片、图表;</tspan><tspan x="2024.7" dy="13.65">搜集和整理与历史学习相关的材料;叙述重要</tspan><tspan x="2024.7" dy="13.65">的历史事实;解释重要的历史概念，分析和评</tspan><tspan x="2024.7" dy="13.65">论重要的历史问题等。</tspan></text>
<text class="t" x="2024.7" y="2105.9"><tspan x="2024.7">5、教学中考虑到学生的年龄特点和心里特征</tspan><tspan x="2024.7" dy="13.65">，从学生的认识水平出发，调动和激发学生的</tspan><tspan x="2024.7" dy="13.65">学习兴趣和热情，鼓励学生积极参与教学活动</tspan><tspan x="2024.7" dy="13.65">，同时，对教学内容和教学活动从有利于学生</tspan><tspan x="2024.7" dy="13.65">学习的角度出发，启发学生对历史的理解，避</tspan><tspan x="2024.7" dy="13.65">免死记硬背，减轻学生的负担。</tspan></text>
<text class="t" x="2024.7" y="2221.9"><tspan x="2024.7">6、有效的作业，是学生复习巩固所学知识，</tspan><tspan x="2024.7" dy="13.65">教师发现教学问题的有效途径之一。在不增加</tspan><tspan x="2024.7" dy="13.65">学生学习负担的前提下，布置有效的学习任务</tspan><tspan x="2024.7" dy="13.65">，针对不同层次的学生设计不同的学习任务，</tspan><tspan x="2024.7" dy="13.65">争取在课堂中完成习题。对于考试和作业做到</tspan><tspan x="2024.7" dy="13.65">及时批改和反馈。查漏补缺。</tspan></text>
<text class="t" x="2024.7" y="2392">7、进一步深入课题的研究和运用</text>
<text class="t" x="2210" y="2337.8"><tspan x="2210">本学期继续深入研究和运用的教研课题是：《</tspan><tspan x="2210" dy="13.65">历史学科师生教学活动方式转变研究》。</tspan></text>
<text class="t" x="2210" y="2398.55"><tspan x="2210">在工作实践中要紧紧围绕这一课题，潜心研究</tspan><tspan x="2210" dy="13.65">，大胆实践，撰写实践课案，不断的总结经验</tspan><tspan x="2210" dy="13.65">教训。在教学培养学生的分析问题和解决问题</tspan><tspan x="2210" dy="13.65">的能力和创造能力。使学生由"学会"到"会学"</tspan><tspan x="2210" dy="13.65">，并能主动获取知识的能力，提高学生的创造</tspan><tspan x="2210" dy="13.65">能力、动手能力，充分发挥学生的健康个性的</tspan><tspan x="2210" dy="13.65">发展。</tspan></text>
<text class="t" x="1877" y="2628.5">五、辅导：</text>
<text class="t" x="1961" y="2525.7"><tspan x="1961">辅导以学习上的优生和暂时的后进生为主，即</tspan><tspan x="1961" dy="13.65">要重视培养学生的创新精神和各能力，重视知</tspan><tspan x="1961" dy="13.65">识的查缺补漏和学法上的指导，又要重视对学</tspan><tspan x="1961" dy="13.65">生进行学习目的的教育及学习兴趣的激发，学</tspan><tspan x="1961" dy="13.65">习意志、习惯和方法等非智力因素的培养。</tspan></text>
<text class="t" x="1961" y="2628.9"><tspan x="1961">在辅导中贯彻因材施教的原则，对那些学有余</tspan><tspan x="1961" dy="13.65">力的优秀学生，帮助他们发展特点，创造性地</tspan><tspan x="1961" dy="13.65">进行学习，培养其创新能力。在课堂上让优生</tspan><tspan x="1961" dy="13.65">发挥骨干作用，带动班级的形成积极向上的学</tspan><tspan x="1961" dy="13.65">习风气。对学习有困难的学生，利用学校开展</tspan><tspan x="1961" dy="13.65">的学困生辅导工作，在多方面关心爱护他们，</tspan><tspan x="1961" dy="13.65">帮助他们掌握历史基础知识的学习，使他们增</tspan><tspan x="1961" dy="13.65">强学习的信心，全面提高教学质量。上学期顾</tspan><tspan x="1961" dy="13.65">静和严廷花同学做为我的辅导对象，在期末考</tspan><tspan x="1961" dy="13.65">试中都取得了优异的成绩，本学期，我选定邢</tspan><tspan x="1961" dy="13.65">海泉和王家威两名同学，争取实现两位同学良</tspan><tspan x="1961" dy="13.65">好学习习惯的养成和成绩的提高。</tspan></text>
<text class="t" x="1877" y="2948.5">六、自我提高</text>
<text class="t" x="1972" y="2826.35"><tspan x="1972">1、认真完成学校的教育教学任务，积极参加</tspan><tspan x="1972" dy="13.65">文科组组织的学习活动，及时送检教案。对于</tspan><tspan x="1972" dy="13.65">教学中出现的问题及时归纳和总结。</tspan></text>
<text class="t" x="1972" y="2901.35"><tspan x="1972">2、继续参加全县第三批骨干教师的培训活动</tspan><tspan x="1972" dy="13.65">，认真完成作业，为全县历史学科点名听课做</tspan><tspan x="1972" dy="13.65">好充分准备。</tspan></text>
<text class="t" x="1972" y="2976"><tspan x="1972">3、继续开展读书活动，并及时做好读书笔记</tspan><tspan x="1972" dy="13.65">，充实到自己的博客中。学期末上交一份读书</tspan><tspan x="1972" dy="13.65">心得。</tspan></text>
<text class="t" x="1972" y="3050.2"><tspan x="1972">4、虚心向其他教师学习，积极参加听课活动</tspan><tspan x="1972" dy="13.65">。(听课节数不少于20节)。</tspan></text>
</g>
<g id="b4-items">
<text class="t" x="1773" y="3111">西欧经济和社会的发展</text>
<text class="t" x="1773" y="3281">【教学目标】</text>
<text class="t" x="1773" y="4189.6">【重点难点】</text>
<text class="t" x="1866.5" y="3158.9"><tspan x="1866.5">知识与能力：了解中世纪晚期，农村垦殖运动</tspan><tspan x="1866.5" dy="13.65">的发展，分析欧洲庄园逐渐衰落和瓦解的原因</tspan><tspan x="1866.5" dy="13.65">;能够概括租地农场的特点以及新的手工业经</tspan><tspan x="1866.5" dy="13.65">营的特点;通过土地关系的变化和手工业的发</tspan><tspan x="1866.5" dy="13.65">展，认识中世纪欧洲资本主义的萌芽;了解中</tspan><tspan x="1866.5" dy="13.65">世纪富裕农民和市民阶级的出现及其意义。</tspan></text>
<text class="t" x="1866.5" y="3274.2"><tspan x="1866.5">过程与方法：通过阅读材料、观看图片，培养</tspan><tspan x="1866.5" dy="13.65">学生论从史出的学习能力</tspan></text>
<text class="t" x="1866.5" y="3334.9"><tspan x="1866.5">情感态度与价值观：从奴隶社会的奴隶，亦即</tspan><tspan x="1866.5" dy="13.65">"他人之物"逐渐过渡到中世纪农奴，亦即"他</tspan><tspan x="1866.5" dy="13.65">人之人"，到中世纪晚期，演变为农村或城市</tspan><tspan x="1866.5" dy="13.65">的"自由人"，这也预示了一种新的社会制度的</tspan><tspan x="1866.5" dy="13.65">到来，感悟人的价值在不断追求自由中体现出</tspan><tspan x="1866.5" dy="13.65">来</tspan></text>
<text class="t" x="1866.5" y="3451">教学重点：庄园制度的变化</text>
<text class="t" x="1866.5" y="3497.8"><tspan x="1866.5">教学难点：认识到中世纪晚期是欧洲社会的一</tspan><tspan x="1866.5" dy="13.65">个转型期</tspan></text>
<text class="t" x="1866.5" y="3559">教学过程</text>
<text class="t" x="1866.5" y="3632.7">一、导入新课</text>
<text class="t" x="1961" y="3605.7"><tspan x="1961">封建庄园是在土地的层层受封的基础上形成的</tspan><tspan x="1961" dy="13.65">，这种土地的封受关系及与此相应的等级制度</tspan><tspan x="1961" dy="13.65">乃是西欧一切封建关系和整个封建制度的基础</tspan><tspan x="1961" dy="13.65">。今天让我们一起来学习第13课：西欧经济</tspan><tspan x="1961" dy="13.65">和社会的发展。</tspan></text>
<text class="t" x="1866.5" y="4120.6">二、新课讲授</text>
<text class="t" x="1961" y="3708">目标导学一：新的生产和经营方式</text>
<text class="t" x="1961" y="3782.2"><tspan x="1961">1.教师提问：11世纪以后，农奴和领主之间的</tspan><tspan x="1961" dy="13.65">关系发生了怎样的变化?</tspan></text>
<text class="t" x="2204" y="3754.9"><tspan x="2204">提示：农奴对领主的人身依附关系越来越弱，</tspan><tspan x="2204" dy="13.65">农奴的人身自由大大增强。农奴可以用货币购</tspan><tspan x="2204" dy="13.65">买劳役豁免权，不再为领主提供劳役，以此获</tspan><tspan x="2204" dy="13.65">得对自己劳动力的自由支配;也可以通过缴纳</tspan><tspan x="2204" dy="13.65">迁徙税，获得离开庄园、摆脱领主人身束缚的</tspan><tspan x="2204" dy="13.65">机会。</tspan></text>
<text class="t" x="1961" y="3870.7"><tspan x="1961">2.展示材料：马克思说："租地农场主成了这</tspan><tspan x="1961" dy="13.65">种农业工人的实际指挥官，成了他们的剩余劳</tspan><tspan x="1961" dy="13.65">动的实际剥削者，而土地所有者现在只和这种</tspan><tspan x="1961" dy="13.65">资本主义租地农场主发生直接关系，而且是单</tspan><tspan x="1961" dy="13.65">纯的货币关系和契约关系。"</tspan></text>
<text class="t" x="1961" y="3985.2"><tspan x="1961">3.问题思考：谈谈你是如何理解马克思说的这</tspan><tspan x="1961" dy="13.65">段话的。</tspan></text>
<text class="t" x="2204" y="3972.5"><tspan x="2204">提示：这反映了欧洲农村资本主义萌芽的情况</tspan><tspan x="2204" dy="13.65">。租地农场主就是后来的农业资本家。他们和</tspan><tspan x="2204" dy="13.65">农业工人之间是一种雇佣与被雇佣，剥削与被</tspan><tspan x="2204" dy="13.65">剥削的关系。</tspan></text>
<text class="t" x="1961" y="4074.2"><tspan x="1961">4.教师提问：中世纪晚期，手工业的发展有什</tspan><tspan x="1961" dy="13.65">么变化?</tspan></text>
<text class="t" x="2204" y="4060.5"><tspan x="2204">提示：一方面手工业者逐渐脱离农业，另一方</tspan><tspan x="2204" dy="13.65">面他们不再仅仅为自己生活而生产，更多是为</tspan><tspan x="2204" dy="13.65">了适应市场而劳动。手工业者开办作坊，家人</tspan><tspan x="2204" dy="13.65">、帮工和学徒一起生产，规模比较小。</tspan></text>
<text class="t" x="1961" y="4162.5"><tspan x="1961">5.教师提问：为了缴纳封建赋税，农民在家里</tspan><tspan x="1961" dy="13.65">用自己的生产工具为商人从事手工生产。这反</tspan><tspan x="1961" dy="13.65">映出当时农村手工工场呈现一种什么状态?后</tspan><tspan x="1961" dy="13.65">来又有什么变化?</tspan></text>
<text class="t" x="2204" y="4148.8"><tspan x="2204">提示：这反映出当时农村手工工场呈现分散的</tspan><tspan x="2204" dy="13.65">一种状态。后来逐渐转向集中状态。</tspan></text>
<text class="t" x="2204" y="4209.5">目标导学二：富裕农民和市民阶级</text>
<text class="t" x="1961" y="4256.9"><tspan x="1961">1.材料展示：有的富裕农民原先是某庄园的庄</tspan><tspan x="1961" dy="13.65">头，负责替领主管理庄园生产和其他事务。他</tspan><tspan x="1961" dy="13.65">们有较强的管理能力，有丰富的农业生产经验</tspan><tspan x="1961" dy="13.65">。由于农业发展、货币地租取代劳役地租，农</tspan><tspan x="1961" dy="13.65">民向领主缴纳货币的现象越来越普遍。农民的</tspan><tspan x="1961" dy="13.65">生产积极性提高，在财富普遍积累的基础上，</tspan><tspan x="1961" dy="13.65">一批富裕农民脱颖而出。他们是土地市场的重</tspan><tspan x="1961" dy="13.65">要参与者，在法兰西，他们占有的土地达到总</tspan><tspan x="1961" dy="13.65">面积的1/5，有的地区甚至达到1/3。</tspan></text>
<text class="t" x="2204" y="4297.85"><tspan x="2204">提示：反映了农村社会结构的变化。这些富裕</tspan><tspan x="2204" dy="13.65">的农民成为农村中富有生气的阶级力量，也是</tspan><tspan x="2204" dy="13.65">现代农业的最早发起人。</tspan></text>
<text class="t" x="1961" y="4535">2.材料探究：</text>
<text class="t" x="2052.7" y="4413.2"><tspan x="2052.7">材料一在城市中，手工业者和商人享有新的契</tspan><tspan x="2052.7" dy="13.65">约关系赋予的权利。</tspan></text>
<text class="t" x="2052.7" y="4474"><tspan x="2052.7">材料二13、14世纪，英、法等国的市民阶层</tspan><tspan x="2052.7" dy="13.65">作为第三等级，出席国王召集的会议，不断提</tspan><tspan x="2052.7" dy="13.65">出自己的政治主张。</tspan></text>
<text class="t" x="2052.7" y="4554.2"><tspan x="2052.7">(1)材料一中，手工业者和商人有了一个新的</tspan><tspan x="2052.7" dy="13.65">身份叫什么?他们的法律地位受到什么的保护?</tspan></text>
<text class="t" x="2296" y="4548.35"><tspan x="2296">提示：手工业者和商人有了一个新的身份是城</tspan><tspan x="2296" dy="13.65">市居民。他们的法律地位受到王室、教会的特</tspan><tspan x="2296" dy="13.65">许状和城市保护法的保护。</tspan></text>
<text class="t" x="2052.7" y="4649.7">(2)材料二反映了什么问题?</text>
<text class="t" x="2207.4" y="4622.4"><tspan x="2207.4">提示：反映了市民阶层政治地位的提高、政治</tspan><tspan x="2207.4" dy="13.65">权利的扩大。伴随着市民阶级在政治、经济生</tspan><tspan x="2207.4" dy="13.65">活方面地位的提高，一种新的世俗生活观念逐</tspan><tspan x="2207.4" dy="13.65">渐形成，这为以后出现的文艺复兴和宗教改革</tspan><tspan x="2207.4" dy="13.65">运动奠定了基础。</tspan></text>
<text class="t" x="1866.5" y="4927">三、课堂总结</text>
<text class="t" x="1961" y="4724.7"><tspan x="1961">11世纪后，随着西欧城市与工商业复兴，社</tspan><tspan x="1961" dy="13.65">会经济的闭塞局面得到改观，对外交往逐日增</tspan><tspan x="1961" dy="13.65">多，12、13世纪，英、法等国开始了消除割</tspan><tspan x="1961" dy="13.65">据、推动中央集权化的政治进程。近代欧洲文</tspan><tspan x="1961" dy="13.65">明在这一时代孕育。</tspan></text>
<text class="t" x="1961" y="4826"><tspan x="1961">西欧中世纪的文明并非"黑暗时代"所能涵盖，</tspan><tspan x="1961" dy="13.65">特别是中世纪后期，王权兴起、-文化的发展</tspan><tspan x="1961" dy="13.65">以及东西方经济文化交流的加强正是西欧近代</tspan><tspan x="1961" dy="13.65">得以崛起的重要因素。</tspan></text>
<text class="t" x="1961" y="4915">板书设计</text>
<text class="t" x="1961" y="4962">1.庄园的衰落和瓦解</text>
<text class="t" x="1961" y="5009">2.租地农场的出现</text>
<text class="t" x="1961" y="5056">3.资本主义雇佣关系的出现</text>
<text class="t" x="1961" y="5103.5">4.富裕农民和市民阶级的出现</text>
</g>
<g id="b6-items">
<text class="t" x="1832" y="5150">★ 九年级下册历史教案</text>
<text class="t" x="1832" y="5197.6">★ 九年级下册历史教案精选五篇</text>
<text class="t" x="1832" y="5244">★ 中图版九年级历史下册教案范文</text>
<text class="t" x="1832" y="5291.7">★ 人教版九年级下册历史教案最新范文2020</text>
<text class="t" x="1832" y="5339">★ 九年级下册历史教案精选</text>
<text class="t" x="1832" y="5386">★ 九年级下册历史教案精选范文</text>
<text class="t" x="1832" y="5433">★ 九年级下册历史教案范文</text>
<text class="t" x="1832" y="5480">★ 九年级下册历史教案范文精选2020</text>
<text class="t" x="1832" y="5527.5">★ 九年级下册历史教案范文五篇2020</text>
<text class="t" x="1832" y="5575">★ 人教版九年级下册历史教案</text>
</g>
<g id="b3-items">
<text class="t e" x="994" y="2480">收复新疆</text>
<text class="t e" x="994" y="2528">教学重点：左宗棠收复新疆</text>
<text class="t" x="781" y="2574.8"><tspan x="781">教学难点：收复伊犁的重要性以及为此付出代</tspan><tspan x="781" dy="13.65">价的必要性</tspan></text>
<text class="t e" x="994" y="2635.5">教学过程</text>
<text class="t e" x="994" y="2682.7">导入新课</text>
<text class="t" x="781" y="2870.2"><tspan x="781">组织学生回顾上节课学过的线索，讨论回答问</tspan><tspan x="781" dy="13.65">题：</tspan></text>
<text class="t" x="537" y="2870.2"><tspan x="537">第二次鸦片战争的时间，以及最终的结果和给</tspan><tspan x="537" dy="13.65">中国社会带来的影响。</tspan></text>
<text class="t e" x="508" y="2730">组织学生学习和探究新课</text>
<text class="t e" x="508" y="2777">阿古柏侵占新疆</text>
<text class="t" x="294" y="2823.2"><tspan x="294">学生阅读11页"导入框"和本目课文内容，根</tspan><tspan x="294" dy="13.65">据教师的提问在书上划出或标注答案。</tspan></text>
<text class="t" x="294" y="2884.35"><tspan x="294">1、根据13页地图，标明阿古柏入侵新疆的路</tspan><tspan x="294" dy="13.65">线。("浩罕国"一喀什噶尔一天山以南一[北疆]</tspan><tspan x="294" dy="13.65">乌鲁木齐一吐鲁番等地)</tspan></text>
<text class="t" x="294" y="3010.35"><tspan x="294">2、有人说阿古柏"一仆二主"。请问他的"二主"</tspan><tspan x="294" dy="13.65">是哪两个?(英、俄)其中哪个国家直接出兵占</tspan><tspan x="294" dy="13.65">领伊犁?(俄)</tspan></text>
<text class="t" x="51" y="2959.7"><tspan x="51">设疑过渡：如果你是清朝的官员，面临着新疆</tspan><tspan x="51" dy="13.65">地区这么严重的危机，你会考虑怎么办?(先让</tspan><tspan x="51" dy="13.65">学生合上课本，在小组里自由表达，然后要他</tspan><tspan x="51" dy="13.65">们打开课本看看当时实际上是怎样处理这场危</tspan><tspan x="51" dy="13.65">机的。)</tspan></text>
<text class="t e" x="263" y="3061">左宗棠收复新疆</text>
<text class="t" x="781" y="3617.8"><tspan x="781">学生阅读12——14页本目课文、"自由阅读卡</tspan><tspan x="781" dy="13.65">"等，思考回答：</tspan></text>
<text class="t" x="537" y="3108.2"><tspan x="537">1、请学生扮演"李鸿章派"和"左宗棠派"，用</tspan><tspan x="537" dy="13.65">自己的语言说明主张及其理由。</tspan></text>
<text class="t" x="537" y="3169.2"><tspan x="537">2、如果你是左宗棠，你将怎样打败阿古柏?</tspan><tspan x="537" dy="13.65">怎样收复新疆?(允许自由发挥)</tspan></text>
<text class="t" x="537" y="3230.1"><tspan x="537">3、左宗棠打败阿古柏后，怎样处理伊犁问题</tspan><tspan x="537" dy="13.65">?(没有直接与俄国交战，而是主张通过外交途</tspan><tspan x="537" dy="13.65">径解决，同时在哈密设立"抗俄司令部"支持曾</tspan><tspan x="537" dy="13.65">纪泽的外交斗争。)</tspan></text>
<text class="t e" x="749" y="3464">1、他这样处理是否正确?请说明理由。</text>
<text class="t" x="326" y="3318.7"><tspan x="326">正确。首先，他根据不同的形势、不同的对象</tspan><tspan x="326" dy="13.65">，采取不同的斗争策略。对于较弱的浩罕国，</tspan><tspan x="326" dy="13.65">取胜的把握比较大，就果断动武;对于较强的</tspan><tspan x="326" dy="13.65">俄国，就尽量避免直接交战，有利于维护国家</tspan><tspan x="326" dy="13.65">的军事实力。</tspan></text>
<text class="t" x="326" y="3420.5"><tspan x="326">其次，伊犁是新疆的大门，如果不收回来，整</tspan><tspan x="326" dy="13.65">个新疆就无安全可言。付出一些土地和金钱作</tspan><tspan x="326" dy="13.65">为代价，收回更为重要的安全大门，是明智之</tspan><tspan x="326" dy="13.65">举，有所失才会有所得。</tspan></text>
<text class="t" x="326" y="3507.7"><tspan x="326">再次，外交斗争必须有武力作后盾，才有可能</tspan><tspan x="326" dy="13.65">取得胜利。</tspan></text>
<text class="t" x="326" y="3569.35"><tspan x="326">总之，在收复新疆这个问题上，左宗棠能够高</tspan><tspan x="326" dy="13.65">瞻远瞩，从全局的眼光来分析、解决问题，作</tspan><tspan x="326" dy="13.65">出了重大的贡献。)</tspan></text>
<text class="t" x="537" y="3644"><tspan x="537">2、联系左宗棠和戚继光等人的所作所为，可</tspan><tspan x="537" dy="13.65">以看出封建王朝的爱国大臣、爱国将领都有什</tspan><tspan x="537" dy="13.65">么样的两面性?(对外反侵略，值得赞扬;对内</tspan><tspan x="537" dy="13.65">镇压人民起义，必须批判。)</tspan></text>
<text class="t" x="537" y="3731.7"><tspan x="537">3、根据第11页"动脑筋"：为什么说新疆自古</tspan><tspan x="537" dy="13.65">以来就是中国领土?(两汉设置西域都护、隋唐</tspan><tspan x="537" dy="13.65">对突厥实行有效管辖、乾隆年间平定新疆少数</tspan><tspan x="537" dy="13.65">民族反动首领的叛乱、清政府在1884年设置</tspan><tspan x="537" dy="13.65">新疆行省等。)</tspan></text>
<text class="t e" x="507" y="3759">如时间许可，巩固小结</text>
<text class="t" x="537" y="3834.2"><tspan x="537">1、指导学生完成课本第13页"练一练"：在新</tspan><tspan x="537" dy="13.65">疆设立行省的年代是D(1884年)。</tspan></text>
<text class="t" x="537" y="3894.85"><tspan x="537">2、指导学生完成第11——12页的[自我测评•</tspan><tspan x="537" dy="13.65">选择题]：D(西汉政府设立西域都护)，A(新疆</tspan><tspan x="537" dy="13.65">战略地位重要)。</tspan></text>
<text class="t" x="537" y="3969.4"><tspan x="537">3、指导学生完成"单项选择"9、10题，"人物</tspan><tspan x="537" dy="13.65">春秋"列举左宗棠收复新疆的事迹并对他作出</tspan><tspan x="537" dy="13.65">评价。(对于较弱的浩罕国果断动武，直接收</tspan><tspan x="537" dy="13.65">复失地;对于较强的俄国尽量避免直接交战，</tspan><tspan x="537" dy="13.65">有利于维护国家的军事实力;付出一些土地和</tspan><tspan x="537" dy="13.65">金钱作为代价，收回价值更为重要的安全大门</tspan><tspan x="537" dy="13.65">——伊犁。在这方面，他的历史功绩值得赞</tspan><tspan x="537" dy="13.65">颂。但是，他对于太平天国的镇压，又具有反</tspan><tspan x="537" dy="13.65">人民的一面。)</tspan></text>
<text class="t" x="537" y="4125.8"><tspan x="537">4、对各组学习情况进行评价，提醒预习第4</tspan><tspan x="537" dy="13.65">课《甲午中日战争》。</tspan></text>
</g>
<g id="b5-items">
<text class="t e" x="993" y="4186.5">古代日本</text>
<text class="t e" x="993" y="4372.6">【教学目标】</text>
<text class="t e" x="993" y="5338">【重点难点】</text>
<text class="t" x="687" y="4233.7"><tspan x="687">知识与能力：了解6世纪前日本的状况;能简单</tspan><tspan x="687" dy="13.65">说出日本大化改新的背景，能简述大化改新的</tspan><tspan x="687" dy="13.65">内容和作用;了解武士集团形成的原因及幕府</tspan><tspan x="687" dy="13.65">统治的建立;弄清幕府与天皇朝廷之间的关系</tspan><tspan x="687" dy="13.65">，认识武士道的实质</tspan></text>
<text class="t" x="687" y="4335.5"><tspan x="687">过程与方法：讨论：中日交往是从何时开始的</tspan><tspan x="687" dy="13.65">，在什么朝代双方往来相当密切?那时交往密</tspan><tspan x="687" dy="13.65">切的原因是什么?初步培养结合所学知识综合</tspan><tspan x="687" dy="13.65">分析问题的能力</tspan></text>
<text class="t" x="687" y="4424.2"><tspan x="687">情感态度与价值观：通过本课的学习，使学生</tspan><tspan x="687" dy="13.65">认识日本学习与模仿中国文明进行的大化改</tspan></text>
<text class="t e" x="899" y="4484.3">新，它使日本从奴隶社会过度到了封建社会</text>
<text class="t e" x="899" y="4531.6">教学重点：大化改新</text>
<text class="t e" x="899" y="4579">教学难点：幕府与天皇朝廷的关系</text>
<text class="t e" x="899" y="4625.6">教学过程</text>
<text class="t e" x="899" y="4799">一、导入新课</text>
<text class="t" x="592" y="4673.25"><tspan x="592">武士与樱花：一般国家都会以猛兽比喻武士英</tspan><tspan x="592" dy="13.65">雄。但是在日本是以樱花来比喻武士。看过樱</tspan><tspan x="592" dy="13.65">花的人都知道，单个的樱花并不美丽，但是成</tspan><tspan x="592" dy="13.65">片的樱花聚在一起就很漂亮。这和日本武士的</tspan><tspan x="592" dy="13.65">集团精神很相似。日本人认为樱花最美的时候</tspan><tspan x="592" dy="13.65">并非是盛开的时候，而是凋谢的时候，樱花花</tspan><tspan x="592" dy="13.65">期不长，但凋谢有个特点，就是一夜之间满山</tspan><tspan x="592" dy="13.65">的樱花全部凋谢，没有一朵花留恋枝头。这是</tspan><tspan x="592" dy="13.65">日本武士崇尚的精神境界，在片刻的耀眼的美</tspan><tspan x="592" dy="13.65">丽中达到自己人生的顶峰，发挥自己的价值，</tspan><tspan x="592" dy="13.65">之后便毫无留恋地结束自己的生命。</tspan></text>
<text class="t e" x="804" y="4857">今天让我们一起来学习第11课：古代日本。</text>
<text class="t e" x="899" y="5408.5">二、新课讲授</text>
<text class="t e" x="804" y="4904">目标导学一：6世纪前日本</text>
<text class="t" x="592" y="4984.5"><tspan x="592">1.教师讲述：3世纪时，在本州中部出现了一</tspan><tspan x="592" dy="13.65">个较强大的奴隶制国家，叫"大和国"。5世纪</tspan><tspan x="592" dy="13.65">初，大和统一了日本。说说大和政权是如何进</tspan><tspan x="592" dy="13.65">行管理的。</tspan></text>
<text class="t" x="348" y="4951.5"><tspan x="348">提示：大和国的统治者称为"大王"，大王依靠</tspan><tspan x="348" dy="13.65">贵族统治全国。王室和贵族各有自己的私有领</tspan><tspan x="348" dy="13.65">地，领地上的居民以"部"的形式组织生产。部</tspan><tspan x="348" dy="13.65">民是贵族的私有民，地位近似于奴隶。</tspan></text>
<text class="t e" x="560" y="5039.5">目标导学二：大化改新</text>
<text class="t e" x="804" y="5100.6">1.教师提问：大化改新的背景有哪些?</text>
<text class="t" x="388" y="5087"><tspan x="388">提示：①国内：社会矛盾尖锐(根本因素);②国</tspan><tspan x="388" dy="13.65">际：中国隋唐的制度先进;朝鲜的新罗国兴起(</tspan><tspan x="388" dy="13.65">外部催化因素)。</tspan></text>
<text class="t" x="592" y="5188.8"><tspan x="592">2.学生自主学习：指导学生阅读教材，分析归</tspan><tspan x="592" dy="13.65">纳大化改新的主要内容。</tspan></text>
<text class="t" x="348" y="5161.4"><tspan x="348">提示：内容——政治上，建立以天皇为中心</tspan><tspan x="348" dy="13.65">的中央集权制度，地方设国、郡、里三级，由</tspan><tspan x="348" dy="13.65">中央派官治理。经济上，废除一切私地、私民</tspan><tspan x="348" dy="13.65">，将私地、部民收归国有，成为公地、公民;</tspan><tspan x="348" dy="13.65">国家把土地分给公民，每隔六年授田一次，不</tspan><tspan x="348" dy="13.65">可终身使用，也不能买卖;统一赋税。</tspan></text>
<text class="t e" x="804" y="5303">3.问题思考：大化改新对日本的影响。</text>
<text class="t" x="383" y="5275.7"><tspan x="383">提示：通过这一系列改革，解决了土地国有、</tspan><tspan x="383" dy="13.65">部民制和中央集权制问题，打击了旧贵族在经</tspan><tspan x="383" dy="13.65">济、政治上的顽固势力，有利于封建生产关系</tspan><tspan x="383" dy="13.65">的形成。达到了改革的目的。大化改新使日本</tspan><tspan x="383" dy="13.65">发展成为一个中央集权制的封建国家。</tspan></text>
<text class="t e" x="804" y="5432">4.拓展延伸：</text>
<text class="t" x="500" y="5379.1"><tspan x="500">日本大化改新深受中国隋唐文化的影响，你还</tspan><tspan x="500" dy="13.65">知道中国先进文化对日本产生深刻影响的哪些</tspan><tspan x="500" dy="13.65">事例?你怎样看待日本民族对待外来先进文化</tspan><tspan x="500" dy="13.65">的态度?从中你得到什么启示?</tspan></text>
<text class="t e" x="714" y="5467">目标导学三：武士和武士集团</text>
<text class="t e" x="804" y="5541.3">1.教师提问：武士集团形成的原因是什么?</text>
<text class="t" x="367" y="5513.7"><tspan x="367">提示：封建庄园经济成为主要的经济形态。有</tspan><tspan x="367" dy="13.65">势力的庄园主开始把一部分庄民武装起来。组</tspan><tspan x="367" dy="13.65">成以主从关系和血缘关系相结合的武士集团。</tspan><tspan x="367" dy="13.65">武士集团对内镇压民众抗争，保卫庄园;对外</tspan><tspan x="367" dy="13.65">掠夺别人的土地，扩大自己的势力。</tspan></text>
<text class="t" x="592" y="5615.9"><tspan x="592">2.教师讲述：武士集团之间不断进行争斗，最</tspan><tspan x="592" dy="13.65">后形成了清和源氏和桓武平氏两大武士集团。</tspan><tspan x="592" dy="13.65">1185年，平氏政权灭亡。1192年，源赖朝从</tspan><tspan x="592" dy="13.65">两条上皇处得到"征夷大将军"的称号，镰仓幕</tspan><tspan x="592" dy="13.65">府正式建立，开始了日本历武士专政的幕府统</tspan><tspan x="592" dy="13.65">治时期。</tspan></text>
<text class="t e" x="804" y="5744.4">3.教师提问：幕府与天皇之间关系怎样?</text>
<text class="t" x="372" y="5731.35"><tspan x="372">提示：幕府与天皇朝廷并存。幕府首领"征夷</tspan><tspan x="372" dy="13.65">大将军"名义上由天皇任命，但天皇实际上大</tspan><tspan x="372" dy="13.65">权旁落，成为一种礼仪性的摆设。</tspan></text>
<text class="t" x="592" y="5812.9"><tspan x="592">4.教师提问：武士效忠的对象是谁?武士道的</tspan><tspan x="592" dy="13.65">实质是什么?</tspan></text>
<text class="t" x="348" y="5805.05"><tspan x="348">提示：武士效忠的是他的主公，而不是国家。</tspan><tspan x="348" dy="13.65">武士道的实质就是以的勇敢和牺牲精神做主人</tspan><tspan x="348" dy="13.65">的忠实奴仆。</tspan></text>
<text class="t" x="592" y="5880.9"><tspan x="592">5.资料链接：武士道源于日本，是以为主君不</tspan><tspan x="592" dy="13.65">怕死、不要命的觉悟为根本，强调"毫不留念</tspan><tspan x="592" dy="13.65">的死，毫不顾忌的死，毫不犹豫的死"，为主</tspan><tspan x="592" dy="13.65">君毫无保留的舍命献身的精神。"武士道"没有</tspan><tspan x="592" dy="13.65">是非观念，只重视维护自己所在集团的荣誉和</tspan><tspan x="592" dy="13.65">安全。</tspan></text>
<text class="t e" x="899" y="6144">三、课堂总结</text>
<text class="t" x="592" y="5995.5"><tspan x="592">日本民族非常善于把其他民族的文化拿来，变</tspan><tspan x="592" dy="13.65">成具有自己特色的文化。在古代日本向中国学</tspan><tspan x="592" dy="13.65">习，在近代日本向西方学习，这些都使日本不</tspan><tspan x="592" dy="13.65">断进步、强盛。</tspan></text>
<text class="t e" x="804" y="6083.7">板书设计</text>
<text class="t e" x="804" y="6131">1.5世纪初，大和统一日本</text>
<text class="t e" x="804" y="6177.7">2.大化改新：背景、时间、内容、意义</text>
<text class="t e" x="804" y="6225">3.武士集团的形成和武士道</text>
<text class="t e" x="804" y="6271.7">4.幕府统治的建立</text>
</g>
<g id="watermarks">
<text class="wm" transform="translate(345,704) rotate(-28)">树图 shutu.cn</text>
<text class="wm" transform="translate(345,1699) rotate(-28)">树图 shutu.cn</text>
<text class="wm" transform="translate(345,2694) rotate(-28)">树图 shutu.cn</text>
<text class="wm" transform="translate(345,3689) rotate(-28)">树图 shutu.cn</text>
<text class="wm" transform="translate(345,4684) rotate(-28)">树图 shutu.cn</text>
<text class="wm" transform="translate(345,5679) rotate(-28)">树图 shutu.cn</text>
<text class="wm" transform="translate(1625,705) rotate(-28)">树图 shutu.cn</text>
<text class="wm" transform="translate(1625,1705) rotate(-28)">树图 shutu.cn</text>
<text class="wm" transform="translate(1625,2705) rotate(-28)">树图 shutu.cn</text>
<text class="wm" transform="translate(1625,3705) rotate(-28)">树图 shutu.cn</text>
<text class="wm" transform="translate(1625,4705) rotate(-28)">树图 shutu.cn</text>
<text class="wm" transform="translate(1625,5705) rotate(-28)">树图 shutu.cn</text>
</g>
</g>
</svg>
